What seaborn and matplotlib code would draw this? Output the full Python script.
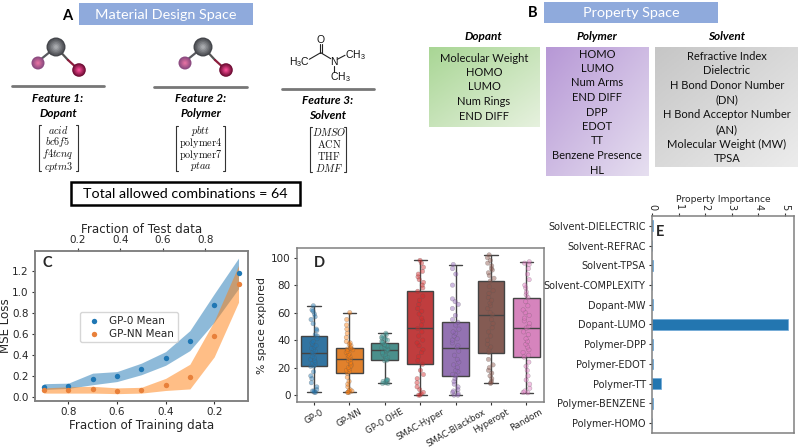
import numpy as np
import pandas as pd
import matplotlib
matplotlib.use("Agg")
import matplotlib.pyplot as plt
import seaborn as sns
from matplotlib.patches import Circle, Rectangle

# panel C
train_frac = [0.9, 0.8, 0.7, 0.6, 0.5, 0.4, 0.3, 0.2, 0.1]
gp0_mean = [0.095, 0.105, 0.17, 0.195, 0.265, 0.37, 0.535, 0.87, 1.175]
gp0_low = [0.07, 0.08, 0.115, 0.145, 0.21, 0.30, 0.44, 0.71, 1.03]
gp0_high = [0.125, 0.13, 0.225, 0.24, 0.32, 0.43, 0.63, 0.98, 1.32]
gpnn_mean = [0.06, 0.065, 0.07, 0.055, 0.065, 0.115, 0.19, 0.58, 1.07]
gpnn_low = [0.035, 0.035, 0.035, 0.03, 0.035, 0.06, 0.075, 0.38, 0.90]
gpnn_high = [0.085, 0.095, 0.10, 0.085, 0.09, 0.175, 0.31, 0.72, 1.25]

# panel D
gp_0 = [2, 2, 3, 3, 4, 6, 9, 12, 14, 17, 21, 21, 22, 23, 24, 25, 26, 27, 28, 30, 31, 32, 33, 34, 35, 36, 37, 38, 39,
        41, 43, 44, 47, 48, 52, 55, 57, 59, 61, 62, 65]
gp_nn = [2, 2, 2, 3, 3, 4, 6, 8, 10, 13, 16, 17, 18, 19, 20, 21, 22, 23, 24, 25, 26, 27, 28, 29, 30, 31, 32, 33, 33.5,
         34, 34.5, 36, 37, 38, 39, 42, 45, 48, 51, 55, 60]
gp_ohe = [8.5, 8.5, 9, 9, 10, 10, 11, 11, 11, 25, 25.5, 26, 27, 27.5, 28, 29, 29.5, 30, 31, 32, 32.5, 33, 33.5, 34,
          34.5, 35, 35.5, 36, 36.5, 37, 38, 38.5, 39, 40, 40.5, 41, 41.5, 42, 43, 44, 45]
smac_hyper = [0, 0, 1, 2, 4, 6, 9, 12, 15, 18, 22.5, 25, 28, 31, 33, 36, 38, 40, 43, 46, 48.5, 51, 54, 56, 59, 61, 63,
              66, 69, 72, 75.5, 78, 80, 82, 84, 86, 88, 90, 93, 96, 98]
smac_black = [0, 0, 1, 2, 3, 4, 6, 8, 10, 12, 14, 15, 17, 18, 20, 22, 24, 26, 29, 32, 34.5, 36, 38, 40, 41, 43, 45,
              46, 48, 51, 53, 55, 58, 63, 66, 68, 70, 80, 88, 92, 95]
hyperopt = [8.5, 9, 10, 12, 14, 16, 18, 20, 22, 26, 31, 33, 35, 37, 40, 43, 46, 49, 52, 55, 58.5, 60, 63, 65, 67, 69,
            71, 74, 76, 79, 83, 85, 87, 89, 91, 92, 94, 96, 98, 100, 102]
random_search = [1.7, 2, 3, 5, 8, 11, 14, 18, 21, 24, 27.7, 29, 31, 33, 35, 37, 39, 41, 44, 46, 48.8, 50, 52, 54, 56,
                 58, 60, 62, 65, 68, 71, 73, 75, 78, 80, 84, 88, 92, 95, 96, 97]
method_names = ["GP-0", "GP-NN", "GP-0 OHE", "SMAC-Hyper", "SMAC-Blackbox", "Hyperopt", "Random"]
method_values = [gp_0, gp_nn, gp_ohe, smac_hyper, smac_black, hyperopt, random_search]
method_colors = ["#1f77b4", "#ff7f0e", "#3f9a97", "#d62728", "#9467bd", "#8c564b", "#e377c2"]

# panel E
prop_names = ["Solvent-DIELECTRIC", "Solvent-REFRAC", "Solvent-TPSA", "Solvent-COMPLEXITY", "Dopant-MW", "Dopant-LUMO",
              "Polymer-DPP", "Polymer-EDOT", "Polymer-TT", "Polymer-BENZENE", "Polymer-HOMO"]
prop_values = [0.03, 0.01, 0.04, 0.01, 0.04, 5.1, 0.03, 0.02, 0.33, 0.05, 0.005]

# panel B text
dopant_props = ["Molecular Weight", "HOMO", "LUMO", "Num Rings", "END DIFF"]
polymer_props = ["HOMO", "LUMO", "Num Arms", "END DIFF", "DPP", "EDOT", "TT", "Benzene Presence", "HL"]
solvent_props = ["Refractive Index", "Dielectric", "H Bond Donor Number", "(DN)", "H Bond Acceptor Number", "(AN)",
                 "Molecular Weight (MW)", "TPSA"]

sns.set_style("ticks")
plt.rcParams["font.family"] = ["DejaVu Sans"]
plt.rcParams["mathtext.fontset"] = "cm"
W, H = 800, 448
SANS = "Lato"
GREY = "#808080"


def px_axes(fig, left, top, right, bottom):
    ax = fig.add_axes([left / W, 1 - bottom / H, (right - left) / W, (bottom - top) / H])
    for s in ax.spines.values():
        s.set_color(GREY)
        s.set_linewidth(1.1)
    ax.patch.set_alpha(0)
    return ax


fig = plt.figure(figsize=(8, 4.48), dpi=100)

# schematic layer, in pixel coordinates
bg = fig.add_axes([0, 0, 1, 1])
bg.set_xlim(0, W)
bg.set_ylim(H, 0)
bg.axis("off")


def gradient(x0, y0, x1, y1, c0, c1):
    t = np.linspace(0, 1, 60)
    grid = (t[None, :] + t[:, None]) / 2
    c0, c1 = np.array(matplotlib.colors.to_rgb(c0)), np.array(matplotlib.colors.to_rgb(c1))
    img = c0[None, None, :] + grid[:, :, None] * (c1 - c0)[None, None, :]
    bg.imshow(img, extent=[x0, x1, y1, y0], aspect="auto", zorder=1)


def label(x, y, s, size=9, **kw):
    kw.setdefault("family", SANS)
    kw.setdefault("color", "#111111")
    bg.text(x, y, s, fontsize=size, ha="center", va="center", zorder=5, **kw)


def ball(x, y, r, outer, inner):
    steps = 6
    c0, c1 = np.array(matplotlib.colors.to_rgb(outer)), np.array(matplotlib.colors.to_rgb(inner))
    for i in range(steps):
        f = i / (steps - 1)
        bg.add_patch(Circle((x, y), r * (1 - 0.8 * f), color=c0 + (c1 - c0) * f, zorder=4, lw=0))


def molecule(dx):
    bg.plot([56 + dx, 35 + dx], [47, 64], color="#5a5a60", lw=1.6, zorder=3)
    bg.plot([56 + dx, 68 + dx], [47, 60], color="#555555", lw=1.6, zorder=3)
    bg.plot([68 + dx, 79 + dx], [60, 70], color="#8c1c3c", lw=1.6, zorder=3)
    ball(56 + dx, 47, 9.5, "#45474c", "#a8aaae")
    ball(38 + dx, 63, 6.5, "#8a4a80", "#e070a0")
    ball(79 + dx, 70, 6.8, "#6e0c34", "#f04a90")


def bracket_list(cx, x0, x1, y0, y1, rows):
    for x, d in ((x0, 1), (x1, -1)):
        bg.plot([x + 2 * d, x, x, x + 2 * d], [y0, y0, y1, y1], color="#333333", lw=0.8, zorder=4)
    for y, s in zip(np.linspace(y0 + 4.5, y1 - 4.5, len(rows)), rows):
        label(cx, y, s, size=7.4, family="DejaVu Serif")


bg.add_patch(Rectangle((79, 3), 174, 22, color="#8faadc", lw=0, zorder=1))
label(166, 15, "Material Design Space", 10.4, color="white")
bg.add_patch(Rectangle((544, 2), 174, 21, color="#8faadc", lw=0, zorder=1))
label(631, 13, "Property Space", 10.4, color="white")
label(67, 16, "A", 10.5, fontweight="bold", color="black")
label(533, 13, "B", 10.5, fontweight="bold", color="black")

molecule(0)
molecule(147)
for x0, x1, y in ((12, 104, 86.5), (154, 247, 87), (282, 374, 89)):
    bg.plot([x0, x1], [y, y], color="#777777", lw=2, zorder=3)
for x, y, a, b in ((58, 99, "Feature 1:", "Dopant"), (201, 99, "Feature 2:", "Polymer"), (328, 101, "Feature 3:", "Solvent")):
    label(x, y, a, 8.5, fontweight="bold", style="italic", color="black")
    label(x, y + 14.5, b, 8.5, fontweight="bold", style="italic", color="black")
bracket_list(58, 39, 78, 125, 171, [r"$acid$", r"$bc6f5$", r"$f4tcnq$", r"$cptm3$"])
bracket_list(201, 176, 225, 126, 171, [r"$pbtt$", r"$\mathrm{polymer4}$", r"$\mathrm{polymer7}$", r"$ptaa$"])
bracket_list(329, 310, 346, 127, 172, [r"$DMSO$", r"$\mathrm{ACN}$", r"$\mathrm{THF}$", r"$DMF$"])

# dimethylacetamide sketch
for xs, ys in (([320.7, 309.3], [52.7, 59.3]), ([320, 320], [52.7, 44]), ([321.8, 321.8], [52.7, 44]),
               ([320.7, 330.7], [52.7, 58.7]), ([337.3, 345], [59.3, 55.3]), ([334.3, 334.3], [66, 71.7])):
    bg.plot(xs, ys, color="#222222", lw=0.8, zorder=3)
for x, y, s in ((320.7, 40, "O"), (334.3, 62, "N"), (299, 62, r"$\mathregular{H_3C}$"),
                (355, 54.7, r"$\mathregular{CH_3}$"), (340.7, 77, r"$\mathregular{CH_3}$")):
    label(x, y, s, 7.5, family="Liberation Sans")

bg.add_patch(Rectangle((71, 182), 229, 23, fc="white", ec="black", lw=1.8, zorder=2))
label(185, 194, "Total allowed combinations = 64", 10.3, color="black")

gradient(429, 47, 540, 127, "#a9d695", "#e6f1de")
gradient(546, 47, 649, 176, "#b798d6", "#e6dff0")
gradient(655, 47, 798, 167, "#c6c6c6", "#ececec")
bg.set_xlim(0, W)
bg.set_ylim(H, 0)
for x, s in ((483, "Dopant"), (597, "Polymer"), (727, "Solvent")):
    label(x, 36, s, 8.5, fontweight="bold", style="italic", color="black")
for x, props, y0, y1 in ((484, dopant_props, 58, 116), (597, polymer_props, 54, 170), (727, solvent_props, 56, 159)):
    for y, s in zip(np.linspace(y0, y1, len(props)), props):
        label(x, y, s, 8)

# panel C
ax_c = px_axes(fig, 35, 251, 248, 401)
ax_c.fill_between(train_frac, gp0_low, gp0_high, color="#1f77b4", alpha=0.5, lw=0)
ax_c.fill_between(train_frac, gpnn_low, gpnn_high, color="#ff7f0e", alpha=0.5, lw=0)
sns.scatterplot(x=train_frac, y=gp0_mean, ax=ax_c, color="#1f77b4", s=15, linewidth=0, label="GP-0 Mean", zorder=3)
sns.scatterplot(x=train_frac, y=gpnn_mean, ax=ax_c, color="#e8803a", s=15, linewidth=0, label="GP-NN Mean", zorder=3)
ax_c.set_xlim(0.937, 0.061)
ax_c.set_ylim(-0.04, 1.388)
ax_c.set_xticks([0.8, 0.6, 0.4, 0.2])
ax_c.set_yticks([0, 0.2, 0.4, 0.6, 0.8, 1.0, 1.2])
ax_c.tick_params(labelsize=7.5, length=2.5, pad=2, color="#333333")
ax_c.set_xlabel("Fraction of Training data", fontsize=8.6, labelpad=1)
ax_c.set_ylabel("MSE Loss", fontsize=8.6, labelpad=0)
ax_c.legend(loc="upper left", bbox_to_anchor=(0.21, 0.593), borderaxespad=0, fontsize=7.5, handletextpad=0.5,
            borderpad=0.35, labelspacing=0.3, frameon=True, fancybox=True, framealpha=0.8)
ax_c.text(47, 263, "C", transform=bg.transData, fontsize=10.5, fontweight="bold", family=SANS, ha="center", va="center")
top_c = ax_c.twiny()
top_c.set_xlim(0, 1)
top_c.set_xticks([0.2, 0.4, 0.6, 0.8])
top_c.tick_params(labelsize=7.5, length=2.5, pad=1.5, color="#333333")
top_c.set_xlabel("Fraction of Test data", fontsize=8.6, labelpad=1.5)
for s in top_c.spines.values():
    s.set_color(GREY)
    s.set_linewidth(1.1)

# panel D
ax_d = px_axes(fig, 297, 248, 544, 402)
long_df = pd.DataFrame({
    "method": [n for n, v in zip(method_names, method_values) for _ in v],
    "explored": [y for v in method_values for y in v],
})
pal = dict(zip(method_names, method_colors))
sns.boxplot(data=long_df, x="method", y="explored", hue="method", palette=pal, ax=ax_d, width=0.75, fliersize=0,
            linewidth=1.0, linecolor="#444444", legend=False)
np.random.seed(3)
sns.stripplot(data=long_df, x="method", y="explored", hue="method", palette=pal, ax=ax_d, size=3.2, alpha=0.45,
              jitter=0.1, linewidth=0.3, edgecolor="#555555", legend=False)
ax_d.set_xlim(-0.48, 6.5)
ax_d.set_ylim(-5, 107)
ax_d.set_xlabel("")
ax_d.set_ylabel("% space explored", fontsize=7.8, labelpad=3)
ax_d.set_yticks([0, 20, 40, 60, 80, 100])
ax_d.tick_params(labelsize=7.5, length=2.5, pad=2, color="#333333")
ax_d.tick_params(axis="x", labelsize=6.2, pad=1.5)
plt.setp(ax_d.get_xticklabels(), rotation=30, ha="center")
ax_d.text(319, 263, "D", transform=bg.transData, fontsize=10.5, fontweight="bold", family=SANS, ha="center", va="center")

# panel E
ax_e = px_axes(fig, 652, 216, 794, 433)
sns.barplot(x=prop_values, y=prop_names, ax=ax_e, color="#1f77b4", orient="h", width=0.55, saturation=0.95,
            edgecolor="#6ea8d8", linewidth=0.5)
ax_e.set_xlim(0, 5.34)
ax_e.xaxis.tick_top()
ax_e.xaxis.set_label_position("top")
ax_e.set_xticks([0, 1, 2, 3, 4, 5])
ax_e.tick_params(labelsize=7, length=2.5, pad=2, color="#333333")
plt.setp(ax_e.get_xticklabels(), rotation=270, ha="center")
ax_e.set_xlabel("Property Importance", fontsize=6.6, labelpad=1)
ax_e.text(660, 232, "E", transform=bg.transData, fontsize=10.5, fontweight="bold", family=SANS, ha="center", va="center")

fig.savefig("out.png", dpi=100)
